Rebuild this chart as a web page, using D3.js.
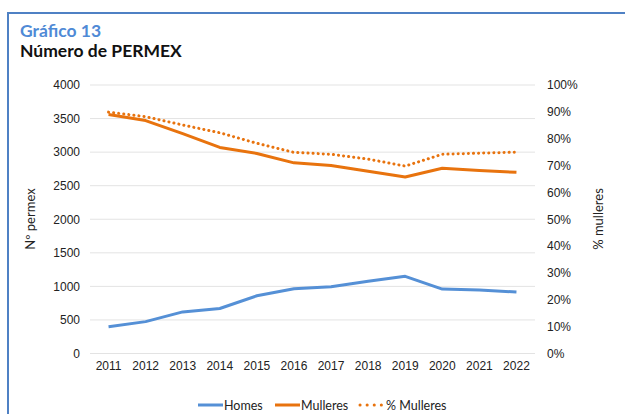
<!DOCTYPE html>
<html>
<head>
<meta charset="utf-8">
<script src="https://cdn.jsdelivr.net/npm/d3@7/dist/d3.min.js"></script>
<style>
  body { margin: 0; background: #fff; }
  svg { font-family: Lato, "Open Sans", sans-serif; }
</style>
</head>
<body>
<div id="chart"></div>
<script>
// anos e series
var years = ["2011","2012","2013","2014","2015","2016","2017","2018","2019","2020","2021","2022"];
var homes = [400, 475, 620, 670, 860, 965, 995, 1075, 1150, 960, 945, 915];
var mulleres = [3560, 3470, 3275, 3070, 2980, 2840, 2800, 2715, 2630, 2760, 2725, 2700];
var pctMulleres = [0.899, 0.882, 0.851, 0.822, 0.783, 0.749, 0.742, 0.724, 0.698, 0.742, 0.746, 0.75];
var leftTicks = [0, 500, 1000, 1500, 2000, 2500, 3000, 3500, 4000];
var rightTicks = [0, 0.1, 0.2, 0.3, 0.4, 0.5, 0.6, 0.7, 0.8, 0.9, 1];

var W = 625, H = 414;
var plot = { left: 90, right: 535, top: 85, bottom: 353.5 };
var blue = "#5590d6", orange = "#e8730e";

var svg = d3.select("#chart").append("svg")
  .attr("width", W).attr("height", H);

// marco
svg.append("line").attr("x1", 8).attr("x2", W).attr("y1", 13).attr("y2", 13)
  .attr("stroke", "#4f81c4").attr("stroke-width", 2);
svg.append("line").attr("x1", 8).attr("x2", 8).attr("y1", 12).attr("y2", H)
  .attr("stroke", "#4f81c4").attr("stroke-width", 2);

// títulos
svg.append("text").attr("x", 20).attr("y", 37).text("Gráfico 13")
  .style("font-size", "17.5px").style("font-weight", "bold").style("fill", "#4f8ad6");
svg.append("text").attr("x", 20).attr("y", 57).text("Número de PERMEX")
  .style("font-size", "17.5px").style("font-weight", "bold").style("fill", "#111");

var x = d3.scaleBand().domain(years).range([plot.left, plot.right]);
var y = d3.scaleLinear().domain([0, 4000]).range([plot.bottom, plot.top]);
var y2 = d3.scaleLinear().domain([0, 1]).range([plot.bottom, plot.top]);

// grella
svg.append("g").selectAll("line").data(leftTicks).enter().append("line")
  .attr("x1", plot.left).attr("x2", plot.right)
  .attr("y1", function(d) { return y(d); }).attr("y2", function(d) { return y(d); })
  .attr("stroke", "#e3e3e3").attr("stroke-width", 1);

// eixo esquerdo
var gl = svg.append("g").attr("transform", "translate(" + (plot.left - 10) + ",0)")
  .call(d3.axisLeft(y).tickValues(leftTicks).tickSize(0).tickPadding(0).tickFormat(d3.format("d")));
gl.select(".domain").remove();
gl.selectAll("text").style("font-size", "12px").style("fill", "#222");

// eixo dereito
var gr = svg.append("g").attr("transform", "translate(547,0)")
  .call(d3.axisRight(y2).tickValues(rightTicks).tickSize(0).tickPadding(0).tickFormat(d3.format(".0%")));
gr.select(".domain").remove();
gr.selectAll("text").style("font-size", "12px").style("fill", "#222");

// eixo x
var gx = svg.append("g").attr("transform", "translate(0," + (plot.bottom + 8) + ")")
  .call(d3.axisBottom(x).tickSize(0).tickPadding(0));
gx.select(".domain").remove();
gx.selectAll("text").style("font-size", "12px").style("fill", "#222");

// títulos de eixos
svg.append("text").attr("transform", "translate(35,219) rotate(-90)")
  .attr("text-anchor", "middle").text("Nº permex")
  .style("font-size", "13px").style("fill", "#222");
svg.append("text").attr("transform", "translate(603,219) rotate(-90)")
  .attr("text-anchor", "middle").text("% mulleres")
  .style("font-size", "13px").style("fill", "#222");

function xc(i) { return x(years[i]) + x.bandwidth() / 2; }

var line1 = d3.line().x(function(d, i) { return xc(i); }).y(function(d) { return y(d); });
var line2 = d3.line().x(function(d, i) { return xc(i); }).y(function(d) { return y2(d); });

svg.append("path").datum(homes).attr("d", line1)
  .attr("fill", "none").attr("stroke", blue).attr("stroke-width", 3).attr("stroke-linejoin", "round");
svg.append("path").datum(mulleres).attr("d", line1)
  .attr("fill", "none").attr("stroke", orange).attr("stroke-width", 3).attr("stroke-linejoin", "round");
svg.append("path").datum(pctMulleres).attr("d", line2)
  .attr("fill", "none").attr("stroke", orange).attr("stroke-width", 3)
  .attr("stroke-dasharray", "0.1,5").attr("stroke-linecap", "round");

// lenda
var legend = [
  { label: "Homes", color: blue, dash: null, x: 198, len: 25, gap: 1 },
  { label: "Mulleres", color: orange, dash: null, x: 275, len: 25, gap: 1 },
  { label: "% Mulleres", color: orange, dash: "0.1,7", x: 360, len: 22, gap: 4 }
];
var lg = svg.append("g").selectAll("g").data(legend).enter().append("g")
  .attr("transform", function(d) { return "translate(" + d.x + ",405)"; });
lg.append("line").attr("x1", 0).attr("x2", function(d) { return d.len; }).attr("y1", 0).attr("y2", 0)
  .attr("stroke", function(d) { return d.color; }).attr("stroke-width", 3)
  .attr("stroke-dasharray", function(d) { return d.dash; })
  .attr("stroke-linecap", function(d) { return d.dash ? "round" : "butt"; });
lg.append("text").attr("x", function(d) { return d.len + d.gap; }).attr("y", 4.5).text(function(d) { return d.label; })
  .style("font-size", "12.5px").style("fill", "#222");
</script>
</body>
</html>
